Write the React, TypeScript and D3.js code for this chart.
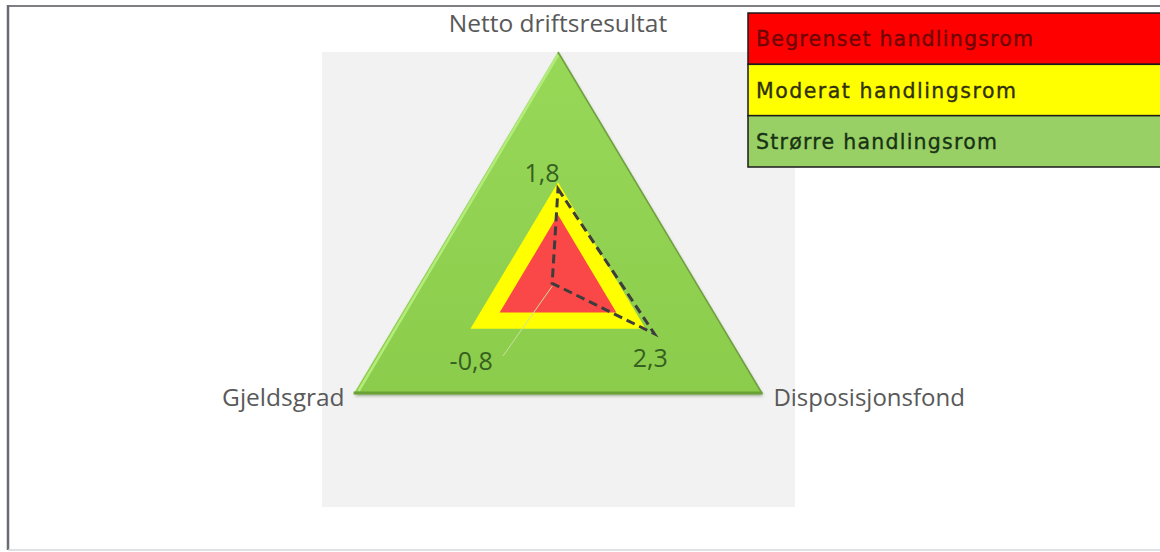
import React from "react";
import * as d3 from "d3";

const categories = ["Netto driftsresultat", "Disposisjonsfond", "Gjeldsgrad"];
const actualValues = [1.8, 2.3, -0.8];
const actualLabels = ["1,8", "2,3", "-0,8"];
const limitedValues = [1, 1, 1];
const moderateValues = [2, 2, 2];
const largerValues = [6, 6, 6];
const axisDomain = [-1, 6];
const legendLabels = ["Begrenset handlingsrom", "Moderat handlingsrom", "Strørre handlingsrom"];

const W = 1160;
const H = 552;
const cx = 558;
const cy = 280;

export default function App() {
  const rX = d3.scaleLinear().domain(axisDomain).range([0, 236]);
  const rY = d3.scaleLinear().domain(axisDomain).range([0, 228]);
  const angle = d3.scaleLinear().domain([0, categories.length]).range([0, 2 * Math.PI]);

  const pt = (v: number, i: number): [number, number] => {
    const a = angle(i);
    return [cx + rX(v) * Math.sin(a), cy - rY(v) * Math.cos(a)];
  };
  const poly = (vals: number[]) => {
    const line = d3.line().curve(d3.curveLinearClosed);
    return line(vals.map((v, i) => pt(v, i))) as string;
  };

  const green = largerValues.map((v, i) => pt(v, i));
  const [gTop, gBR, gBL] = green;

  const labelOffsets: [number, number][] = [[-16, -7], [-4, 33], [-81, 87]];
  const axisLabelPos: { dx: number; dy: number; anchor: string; size: number }[] = [
    { dx: 0, dy: -20, anchor: "middle", size: 24.5 },
    { dx: 11, dy: 12, anchor: "start", size: 24 },
    { dx: -9, dy: 12, anchor: "end", size: 24.5 },
  ];

  const legendColors = ["#ff0000", "#ffff00", "#99d066"];
  const legendText = ["#6e0606", "#30300c", "#183214"];
  const legendWidths = [277, 260, 241];
  const legendY = d3.scaleLinear().domain([0, 3]).range([13, 167]);

  const p0 = pt(actualValues[2], 2);

  return (
    <svg width={W} height={H} style={{ position: "absolute", left: 0, top: 0, background: "#fff" }}>
      <defs>
        <linearGradient id="gg" x1="0" y1="0" x2="0" y2="1">
          <stop offset="0" stopColor="#98d858" />
          <stop offset="1" stopColor="#8ccc4c" />
        </linearGradient>
        <filter id="sh" x="-10%" y="-10%" width="120%" height="120%">
          <feDropShadow dx="1" dy="2" stdDeviation="1.5" floodColor="#3a5a20" floodOpacity="0.45" />
        </filter>
      </defs>
      {/* frame */}
      <line x1={8} y1={6} x2={W} y2={6} stroke="#7d7f84" strokeWidth={2} />
      <line x1={8} y1={5} x2={8} y2={550} stroke="#6a6c70" strokeWidth={2.5} />
      <line x1={8} y1={550} x2={W} y2={550} stroke="#d3d7dc" strokeWidth={1.5} />
      {/* plot area */}
      <rect x={322} y={52} width={473} height={455} fill="#f2f2f2" />

      {/* larger */}
      <path d={poly(largerValues)} fill="url(#gg)" filter="url(#sh)" />
      <line x1={gTop[0]} y1={gTop[1] + 3} x2={gBL[0] + 5} y2={gBL[1] - 3} stroke="#b4ec7c" strokeWidth={2.5} />
      <line x1={gTop[0]} y1={gTop[1]} x2={gBR[0]} y2={gBR[1]} stroke="#6f9f3e" strokeWidth={1.5} />
      <line x1={gBL[0]} y1={gBL[1] - 1} x2={gBR[0]} y2={gBR[1] - 1} stroke="#6aa236" strokeWidth={3} />

      {/* moderate */}
      <path d={poly(moderateValues)} fill="#ffff00" />
      {/* limited */}
      <path d={poly(limitedValues)} fill="#fa4848" />

      {/* leader line */}
      <line x1={p0[0]} y1={p0[1] + 3} x2={503} y2={356} stroke="#c9df9f" strokeWidth={1} />

      {/* actual */}
      <path d={poly(actualValues)} fill="none" stroke="#3d3d3d" strokeWidth={3} strokeDasharray="9 5" />

      {actualValues.map((v, i) => {
        const [x, y] = pt(v, i);
        return (
          <text key={i} x={x + labelOffsets[i][0]} y={y + labelOffsets[i][1]} textAnchor="middle"
            fontFamily="'Open Sans', sans-serif" fontSize={25} fill="#356020">
            {actualLabels[i]}
          </text>
        );
      })}

      {categories.map((c, i) => {
        const [x, y] = pt(axisDomain[1], i);
        const p = axisLabelPos[i];
        return (
          <text key={c} x={x + p.dx} y={y + p.dy} textAnchor={p.anchor as any}
            fontFamily="'Open Sans', sans-serif" fontSize={p.size} fill="#595959">
            {c}
          </text>
        );
      })}

      {/* legend */}
      {legendLabels.map((l, i) => {
        const y0 = legendY(i);
        const y1 = legendY(i + 1);
        return (
          <g key={l}>
            <rect x={748} y={y0} width={W - 748 + 2} height={y1 - y0} fill={legendColors[i]} stroke="#1a1a1a" strokeWidth={1.5} />
            <text x={756} y={(y0 + y1) / 2 + 7.5} fontFamily="'DejaVu Sans', sans-serif" fontSize={20.5}
              fill={legendText[i]} stroke={legendText[i]} strokeWidth={0.35}
              textLength={legendWidths[i]} lengthAdjust="spacing">
              {l}
            </text>
          </g>
        );
      })}
    </svg>
  );
}
